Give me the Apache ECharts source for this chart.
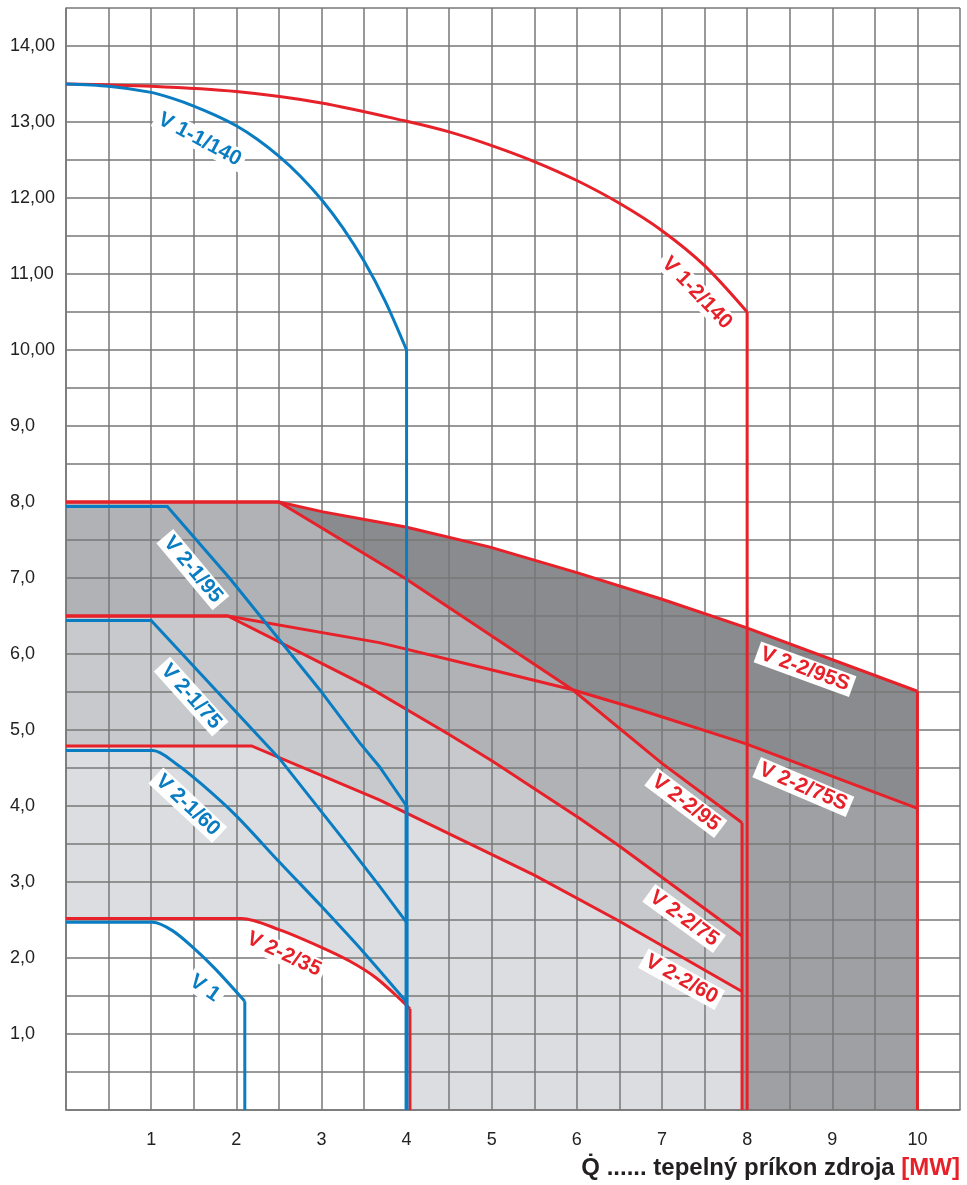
<!DOCTYPE html>
<html>
<head>
<meta charset="utf-8">
<script src="https://cdn.jsdelivr.net/npm/echarts@6/dist/echarts.min.js"></script>
<style>
html,body{margin:0;padding:0;background:#fff;}
#c{width:967px;height:1185px;}
</style>
</head>
<body>
<div id="c"></div>
<script>
// ---- tick labels ----
const xTickLabels = ['1','2','3','4','5','6','7','8','9','10'];
const yTickLabels = ['1,0','2,0','3,0','4,0','5,0','6,0','7,0','8,0','9,0','10,00','11,00','12,00','13,00','14,00'];

// ---- blue curves ----
const v11_140 = [[0,13.5],[0.5,13.47],[1,13.39],[1.25,13.31],[1.5,13.21],[1.75,13.09],[2,12.95],[2.25,12.77],[2.5,12.55],[2.75,12.29],[3,11.98],[3.25,11.61],[3.5,11.17],[3.75,10.64],[4,10.0]];
const v11_140_drop = [[4,10.0],[4,0]];
const v21_95 = [[0,7.94],[1.19,7.94],[1.92,7.0],[2.98,5.53],[3.45,4.83],[3.68,4.52],[4,4.0]];
const v21_75 = [[0,6.44],[1.0,6.44],[2.51,4.62],[3.25,3.57],[3.68,2.95],[4,2.47]];
const v21_60 = [[0,4.73],[1.02,4.73],[1.3,4.55],[1.6,4.28],[2.0,3.87],[2.5,3.27],[3.0,2.68],[3.5,2.07],[4,1.42]];
const v21_drop = [[4,4.0],[4,0]];
const v1 = [[0,2.47],[1.02,2.47],[1.25,2.36],[1.5,2.13],[1.75,1.86],[2.1,1.43]];
const v1_drop = [[2.1,1.43],[2.1,0]];

// ---- red curves ----
const v12_140 = [[0,13.5],[1,13.47],[2,13.4],[3,13.25],[4,13.01],[4.5,12.87],[5,12.69],[5.5,12.48],[6,12.23],[6.5,11.93],[7,11.57],[7.5,11.11],[8,10.5]];
const v12_140_drop = [[8,10.5],[8,0]];
const v22_35 = [[0,2.52],[2.06,2.52],[2.51,2.37],[2.98,2.15],[3.33,1.96],[3.64,1.74],[3.97,1.41],[4.04,1.33]];
const v22_35_drop = [[4.04,1.33],[4.04,0]];
const v22_60 = [[0,4.79],[2.18,4.79],[3.68,4.08],[5.5,3.09],[6.49,2.49],[7.94,1.56]];
const v22_75 = [[0,6.5],[1.9,6.5],[3.56,5.56],[4.5,4.94],[5.01,4.59],[6.03,3.84],[6.49,3.48],[7.94,2.29]];
const v22_95 = [[0,8.0],[2.5,8.0],[3.99,6.99],[4.97,6.26],[5.95,5.53],[7.0,4.56],[7.94,3.78]];
const v22_drop = [[7.94,3.78],[7.94,0]];
const v22_75S = [[0,6.5],[1.9,6.5],[3.68,6.15],[4.97,5.8],[5.95,5.53],[6.73,5.27],[7.98,4.82],[10,3.97]];
const v22_95S = [[0,8.0],[2.5,8.0],[3.02,7.87],[3.99,7.67],[4.97,7.41],[6,7.07],[7,6.72],[7.98,6.35],[10,5.51]];
const v22_S_drop = [[10,5.51],[10,0]];

// ---- curve labels ----
const labelNames  = ['V 1-1/140','V 1-2/140','V 2-1/95','V 2-1/75','V 2-1/60','V 2-2/35','V 1','V 2-2/95S','V 2-2/75S','V 2-2/95','V 2-2/75','V 2-2/60'];
const labelX      = [1.57, 7.41, 1.49, 1.47, 1.43, 2.56, 1.63, 8.68, 8.66, 7.28, 7.26, 7.23];
const labelY      = [12.77,10.75,7.11, 5.44, 4.01, 2.05, 1.6,  5.8,  4.25, 4.04, 2.52, 1.72];
const labelAngle  = [-28, -46, -50, -48, -43, -25, -35, -20, -23, -37, -36, -29];
const labelColorKey = ['b','r','b','b','b','r','b','r','r','r','r','r'];

const BLUE = '#0a7cc2', RED = '#e62129', GRID = '#777777';
const FONT = '"Liberation Sans", Arial, Helvetica, sans-serif';

function toZero(arr){ const last = arr[arr.length-1]; return arr.concat([[last[0],0]]); }

function area(data, color){
  return {type:'line', data:toZero(data), symbol:'none', z:1, silent:true,
    lineStyle:{width:0, opacity:0}, areaStyle:{color:color, opacity:1}};
}
function line(data, color, w, smooth){
  return {type:'line', data:data, symbol:'none', z:5, silent:true,
    smooth: smooth ? 0.3 : false,
    lineStyle:{color:color, width:w||3, cap:'butt', join:'miter'}};
}

const labelData = labelNames.map((n,i)=>({
  value:[labelX[i], labelY[i]],
  label:{show:true, position:'inside', formatter:n, rotate:labelAngle[i],
    color: labelColorKey[i]==='b' ? BLUE : RED,
    fontFamily:FONT, fontWeight:'bold', fontSize:21,
    backgroundColor:'#ffffff', padding:[1,4,0,4]}
}));

const series = [
  area(v22_95S, '#8a8b8f'),
  area(v22_75S, '#9fa0a4'),
  area(v22_95,  '#b1b2b6'),
  area(v22_75,  '#c8c9cc'),
  area(v22_60,  '#dcdde0'),
  area(v22_35,  '#ffffff'),
  // red lines
  line(v12_140, RED, 3, true), line(v12_140_drop, RED, 3),
  line(v22_95S, RED, 3), line(v22_75S, RED, 3), line(v22_S_drop, RED, 3),
  line(v22_95, RED, 3), line(v22_75, RED, 3), line(v22_60, RED, 3), line(v22_drop, RED, 3),
  line(v22_35, RED, 3, true), line(v22_35_drop, RED, 3),
  // blue lines
  line(v11_140, BLUE, 3, true), line(v11_140_drop, BLUE, 3),
  line(v21_95, BLUE, 3), line(v21_75, BLUE, 3), line(v21_60, BLUE, 3, true), line(v21_drop, BLUE, 4),
  line(v1, BLUE, 3, true), line(v1_drop, BLUE, 3),
  {type:'scatter', data:labelData, symbolSize:0, z:8, silent:true, itemStyle:{opacity:1}}
];

const chart = echarts.init(document.getElementById('c'), null, {renderer:'canvas'});
chart.setOption({
  animation:false,
  backgroundColor:'#ffffff',
  grid:{left:66, right:7, top:8, bottom:75, containLabel:false},
  xAxis:{type:'value', min:0, max:10.5, interval:0.5, z:3,
    axisLine:{show:true, onZero:false, lineStyle:{color:GRID, width:1.5}},
    axisTick:{show:false},
    splitLine:{show:true, lineStyle:{color:GRID, width:1.5}},
    axisLabel:{margin:21, color:'#222', fontFamily:FONT, fontSize:18,
      formatter:v=>{ const i = Math.round(v)-1; return (Math.abs(v-Math.round(v))<1e-6 && i>=0 && i<xTickLabels.length) ? xTickLabels[i] : ''; }}
  },
  yAxis:{type:'value', min:0, max:14.5, interval:0.5, z:3,
    axisLine:{show:true, onZero:false, lineStyle:{color:GRID, width:1.5}},
    axisTick:{show:false},
    splitLine:{show:true, lineStyle:{color:GRID, width:1.5}},
    axisLabel:{margin:56, align:'left', color:'#222', fontFamily:FONT, fontSize:18,
      formatter:v=>{ const i = Math.round(v)-1; return (Math.abs(v-Math.round(v))<1e-6 && i>=0 && i<yTickLabels.length) ? yTickLabels[i] : ''; }}
  },
  graphic:[{
    type:'text', right:7, top:1156, z:10,
    style:{text:'{a|Q\u0307 ...... tepelný príkon zdroja }{b|[MW]}',
      rich:{
        a:{fontFamily:FONT, fontWeight:'bold', fontSize:24, fill:'#231f20'},
        b:{fontFamily:FONT, fontWeight:'bold', fontSize:24, fill:RED}
      }}
  }],
  series:series
});
</script>
</body>
</html>
